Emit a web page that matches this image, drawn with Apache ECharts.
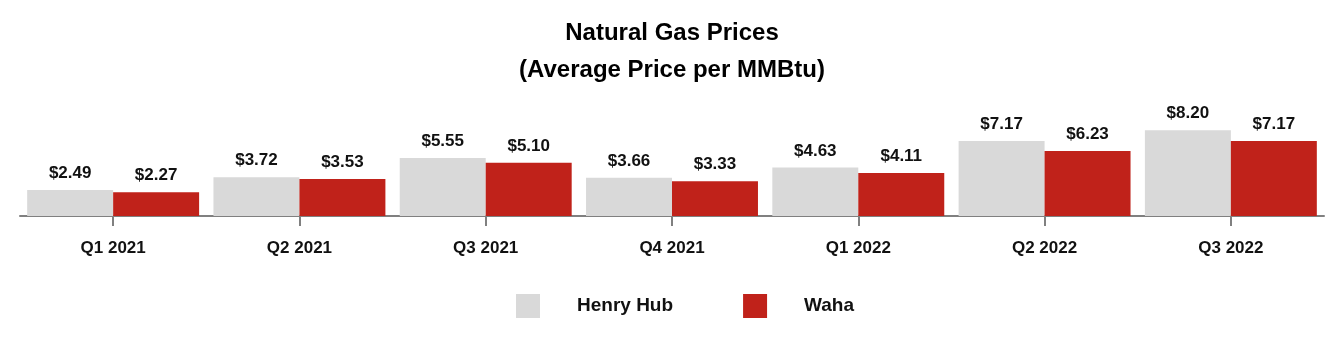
<!DOCTYPE html>
<html>
<head>
<meta charset="utf-8">
<script src="https://cdn.jsdelivr.net/npm/echarts@6/dist/echarts.min.js"></script>
<style>
  html, body { margin: 0; padding: 0; background: #fff; }
  #chart { width: 1344px; height: 350px; }
</style>
</head>
<body>
<div id="chart"></div>
<script>
// Quarterly average natural gas prices, $/MMBtu
const quarters = ['Q1 2021', 'Q2 2021', 'Q3 2021', 'Q4 2021', 'Q1 2022', 'Q2 2022', 'Q3 2022'];
const henryHub = [2.49, 3.72, 5.55, 3.66, 4.63, 7.17, 8.20];
const waha = [2.27, 3.53, 5.10, 3.33, 4.11, 6.23, 7.17];

const FONT = '"Liberation Sans", Arial, sans-serif';

const valueLabel = {
  show: true,
  position: 'top',
  distance: 8,
  fontFamily: FONT,
  fontSize: 17,
  fontWeight: 'bold',
  color: '#111',
  formatter: p => '$' + p.value.toFixed(2)
};

const chart = echarts.init(document.getElementById('chart'), null, { renderer: 'canvas' });
chart.setOption({
  animation: false,
  backgroundColor: '#fff',
  title: {
    text: 'Natural Gas Prices\n(Average Price per MMBtu)',
    left: 'center',
    top: 15,
    padding: 0,
    textStyle: {
      fontFamily: FONT,
      fontSize: 24,
      fontWeight: 'bold',
      lineHeight: 37,
      color: '#000'
    }
  },
  legend: {
    left: 516,
    top: 294,
    padding: 0,
    itemWidth: 24,
    itemHeight: 24,
    itemGap: 70,
    icon: 'rect',
    textStyle: {
      fontFamily: FONT,
      fontSize: 19,
      fontWeight: 'bold',
      color: '#111',
      padding: [0, 0, 0, 32]
    },
    data: ['Henry Hub', 'Waha']
  },
  grid: { left: 20, right: 20, top: 111.5, bottom: 134, containLabel: false },
  xAxis: {
    type: 'category',
    data: quarters,
    axisLine: { show: true, lineStyle: { color: '#808080', width: 2 } },
    axisTick: { show: true, alignWithLabel: true, length: 10, lineStyle: { color: '#808080', width: 2 } },
    axisLabel: {
      margin: 24,
      fontFamily: FONT,
      fontSize: 17,
      fontWeight: 'bold',
      color: '#111'
    }
  },
  yAxis: {
    type: 'value',
    min: 0,
    max: 10,
    show: false,
    splitLine: { show: false }
  },
  series: [
    {
      name: 'Henry Hub',
      type: 'bar',
      data: henryHub,
      barGap: '0%',
      barCategoryGap: '7.7%',
      itemStyle: { color: '#d9d9d9' },
      label: valueLabel
    },
    {
      name: 'Waha',
      type: 'bar',
      data: waha,
      itemStyle: { color: '#c0221a' },
      label: valueLabel
    }
  ]
});
</script>
</body>
</html>
